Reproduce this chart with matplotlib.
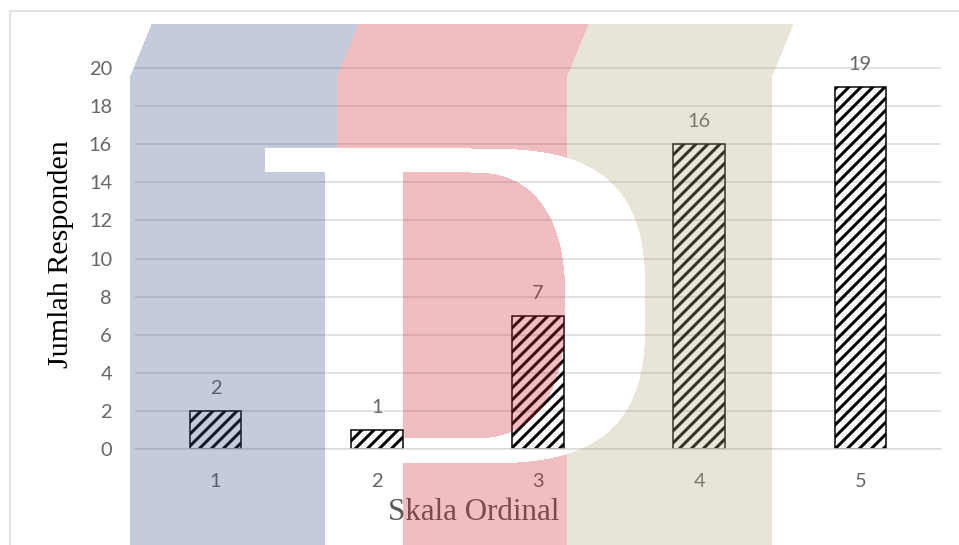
import numpy as np
import matplotlib
matplotlib.use("Agg")
import matplotlib.pyplot as plt
from matplotlib.patches import Rectangle

# data
kategori = [1, 2, 3, 4, 5]
jumlah = [2, 1, 7, 16, 19]
y_ticks = [0, 2, 4, 6, 8, 10, 12, 14, 16, 18, 20]

W, H = 959, 545
DPI = 72

plt.rcParams['font.family'] = ['Lato', 'DejaVu Sans']
plt.rcParams['hatch.linewidth'] = 3

fig = plt.figure(figsize=(W / DPI, H / DPI), dpi=DPI)
fig.patch.set_facecolor('white')

# thin frame around the chart area
fig.add_artist(Rectangle((10 / W, -0.1), 1.0, 1.1 - 11 / H, transform=fig.transFigure,
                         fill=False, edgecolor='#d9d9d9', lw=1.5))

# plot area
ax = fig.add_axes([135 / W, 1 - 449 / H, (941 - 135) / W, 20.1 * 19.05 / H])
ax.set_facecolor('none')
bars = ax.bar(kategori, jumlah, width=0.32, facecolor='none', edgecolor='black',
              hatch='//', linewidth=1.5, zorder=3)
for b in bars:
    b.set_hatch_linewidth(3)
ax.set_xlim(0.5, 5.5)
ax.set_ylim(0, 20.1)
ax.set_xticks(kategori)
ax.set_yticks(y_ticks)
ax.yaxis.grid(True, color='#d9d9d9', lw=1.5)
ax.set_axisbelow(True)
for s in ['top', 'right', 'left']:
    ax.spines[s].set_visible(False)
ax.spines['bottom'].set_color('#d9d9d9')
ax.spines['bottom'].set_linewidth(1.5)
ax.spines['bottom'].set_zorder(4)
ax.tick_params(axis='x', length=0, pad=24, labelsize=20, labelcolor='#666666')
ax.tick_params(axis='y', length=0, pad=23, labelsize=20, labelcolor='#666666')

for k, v in zip(kategori, jumlah):
    ax.annotate(str(v), (k, v), xytext=(0, 17), textcoords='offset points',
                ha='center', va='baseline', fontsize=20, color='#666666')

fig.text(474 / W, 1 - 520 / H, 'Skala Ordinal', ha='center', va='baseline',
         family='Liberation Serif', fontsize=31, color='#595959')
fig.text(61 / W, 1 - 254 / H, 'Jumlah Responden', rotation=90, ha='center', va='center',
         family='Liberation Serif', fontsize=30, color='black')

# watermark logo on top (three coloured columns with a white "D")
yy, xx = np.mgrid[0:H, 0:W].astype(float)
sl = np.clip(75 - yy, 0, None) * 21 / 51
b0, b1, b2, b3 = 130 + sl, 337 + sl, 567 + sl, 772 + sl
top = yy >= 24
blue = top & (xx >= b0) & (xx < b1)
red = top & (xx >= b1) & (xx < b2)
beige = top & (xx >= b2) & (xx < b3)

serif = (xx >= 265) & (xx < 403) & (yy >= 148) & (yy < 172)
stem = (xx >= 325) & (xx < 403) & (yy >= 148)
bowl = (xx >= 403) & (yy >= 148) & (yy < 463) & (
    (xx < 470) | (np.abs((xx - 470) / 175) ** 3 + np.abs((yy - 305.5) / 157.5) ** 3 <= 1))
counter = (xx >= 403) & (yy >= 172) & (yy < 438) & (
    (xx < 470) | (np.abs((xx - 470) / 95) ** 2.5 + np.abs((yy - 305) / 133) ** 2.5 <= 1))
d_shape = (serif | stem | bowl) & ~counter

img = np.zeros((H, W, 4))
for mask, rgb in [(blue, (55, 82, 138)), (red, (205, 38, 45)), (beige, (178, 165, 125))]:
    m = mask & ~d_shape
    img[m, :3] = np.array(rgb) / 255
    img[m, 3] = 0.3
fig.figimage(img, xo=0, yo=0, origin='upper', zorder=10)

fig.savefig('out.png', dpi=DPI)
